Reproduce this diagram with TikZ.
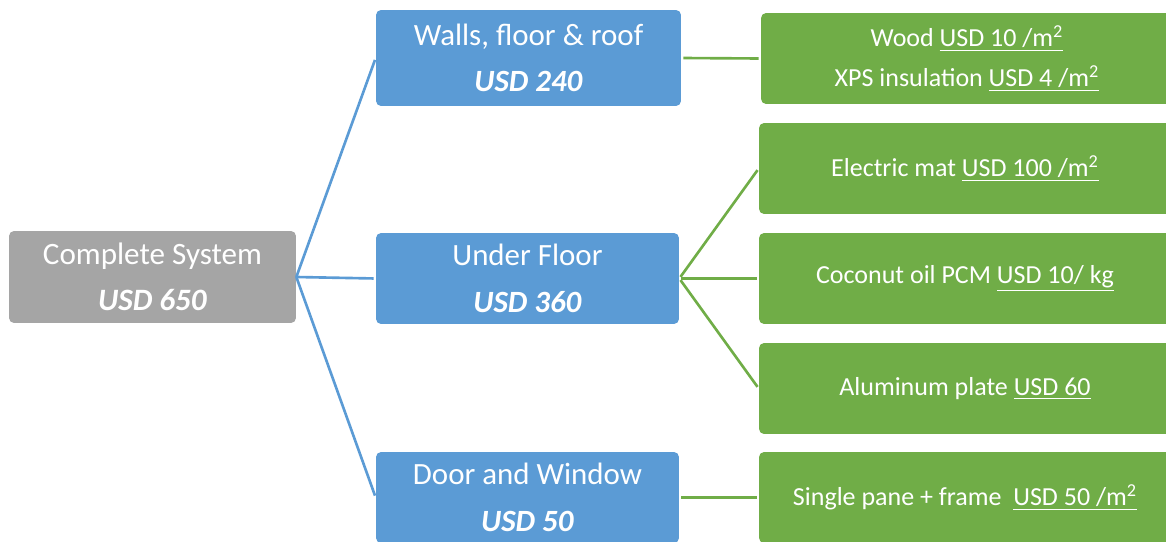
\documentclass[tikz,border=0pt]{standalone}
\usepackage{fontspec}
\setmainfont{Carlito}
\definecolor{sysgray}{HTML}{A5A5A5}
\definecolor{partblue}{HTML}{5B9BD5}
\definecolor{itemgreen}{HTML}{70AD47}

\begin{document}
\begin{tikzpicture}[x=0.02cm,y=-0.02cm,
  box/.style={rounded corners=0.1cm,text=white,align=center,inner sep=0pt},
  sys/.style={box,fill=sysgray,minimum width=5.74cm,minimum height=1.84cm,font=\fontsize{17.7}{26.5}\selectfont},
  part/.style={box,fill=partblue,minimum width=6.06cm,minimum height=1.82cm,font=\fontsize{17.6}{26.5}\selectfont},
  item/.style={box,fill=itemgreen,minimum width=8.24cm,minimum height=1.82cm,font=\fontsize{14.8}{22.5}\selectfont},
  link/.style={line width=1.5pt,shorten >=0.04cm}]
\useasboundingbox (0,0) rectangle (1166,541);
% cost tree
\node[sys] (system) at (152.5,277) {Complete System\\\textbf{\textit{USD 650}}};
\node[part,minimum width=6.1cm,minimum height=1.92cm] (walls) at (528.5,58) {Walls, floor \& roof\\\textbf{\textit{USD 240}}};
\node[part] (floor) at (527.5,278.5) {Under Floor\\\textbf{\textit{USD 360}}};
\node[part] (door) at (527.5,497.5) {Door and Window\\\textbf{\textit{USD 50}}};
\node[item] (wood) at (967,58.5) {Wood \underline{USD 10 /m\textsuperscript{2}}\\XPS insulation \underline{USD 4 /m\textsuperscript{2}}};
\node[item] (mat) at (965,168.5) {Electric mat \underline{USD 100 /m\textsuperscript{2}}};
\node[item] (oil) at (965,278.5) {Coconut oil PCM \underline{USD 10/ kg}};
\node[item] (plate) at (965,388.5) {Aluminum plate \underline{USD 60}};
\node[item] (pane) at (965,497.5) {Single pane + frame\ \ \underline{USD 50 /m\textsuperscript{2}}};
% connectors
\draw[link,partblue] (system.east) -- (walls.west);
\draw[link,partblue] (system.east) -- (floor.west);
\draw[link,partblue] (system.east) -- (door.west);
\draw[link,itemgreen,shorten <=0.04cm] (walls.east) -- (wood.west);
\draw[link,itemgreen,shorten <=0.04cm] (floor.east) -- (mat.west);
\draw[link,itemgreen,shorten <=0.04cm] (floor.east) -- (oil.west);
\draw[link,itemgreen,shorten <=0.04cm] (floor.east) -- (plate.west);
\draw[link,itemgreen,shorten <=0.04cm] (door.east) -- (pane.west);
\end{tikzpicture}
\end{document}
